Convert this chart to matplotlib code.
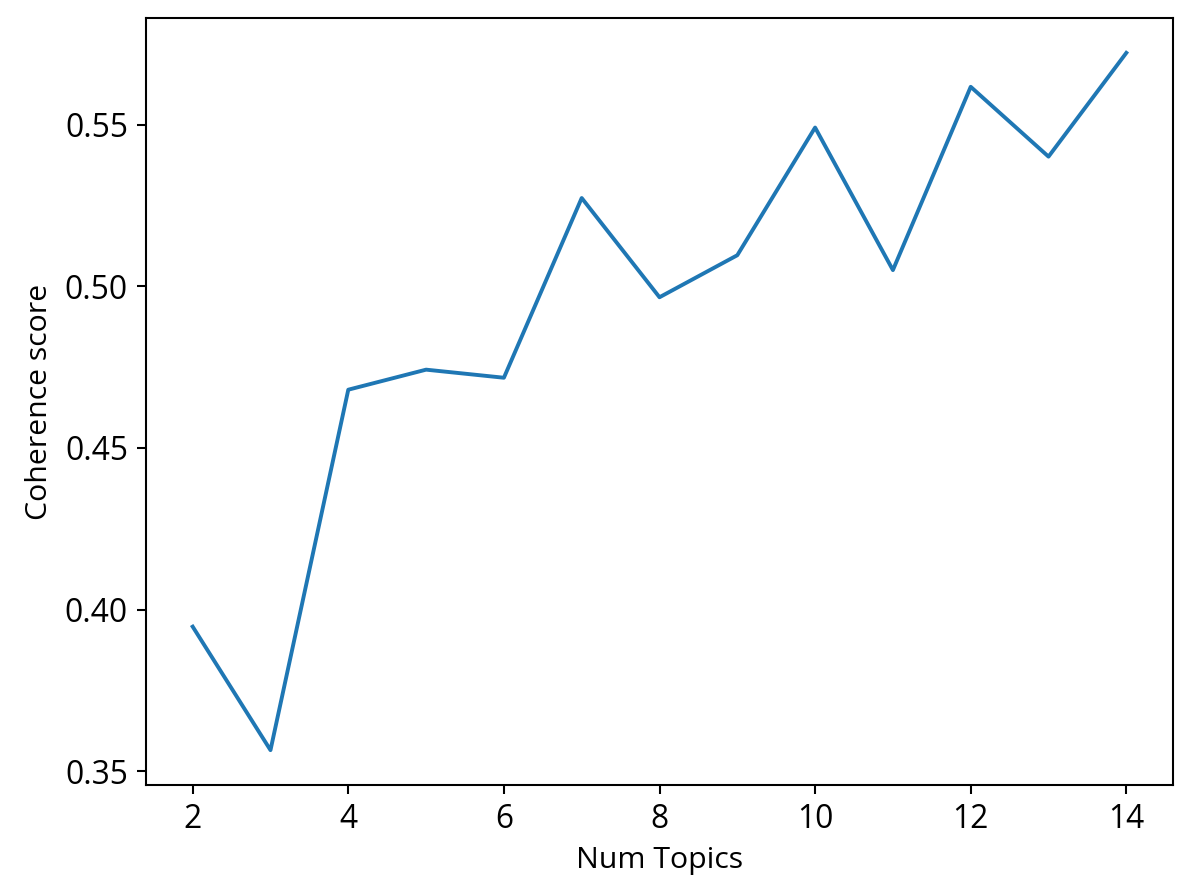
import matplotlib
matplotlib.use("Agg")
import matplotlib.pyplot as plt

num_topics = [2, 3, 4, 5, 6, 7, 8, 9, 10, 11, 12, 13, 14]
coherence = [0.3947, 0.3565, 0.4680, 0.4742, 0.4717, 0.5273, 0.4966,
             0.5096, 0.5491, 0.5050, 0.5617, 0.5401, 0.5722]

plt.rcParams['font.family'] = ['Open Sans', 'DejaVu Sans']
plt.rcParams['font.size'] = 11.7
plt.rcParams['xtick.labelsize'] = 12.3
plt.rcParams['ytick.labelsize'] = 12.3

fig, ax = plt.subplots(figsize=(1192 / 186.25, 895 / 186.25), dpi=186.25)
fig.subplots_adjust(left=146 / 1192, right=1173 / 1192, top=1 - 18 / 895, bottom=1 - 785 / 895)

ax.plot(num_topics, coherence)
ax.set_xlabel("Num Topics")
ax.set_ylabel("Coherence score")

fig.savefig("out.png", dpi=186.25)
